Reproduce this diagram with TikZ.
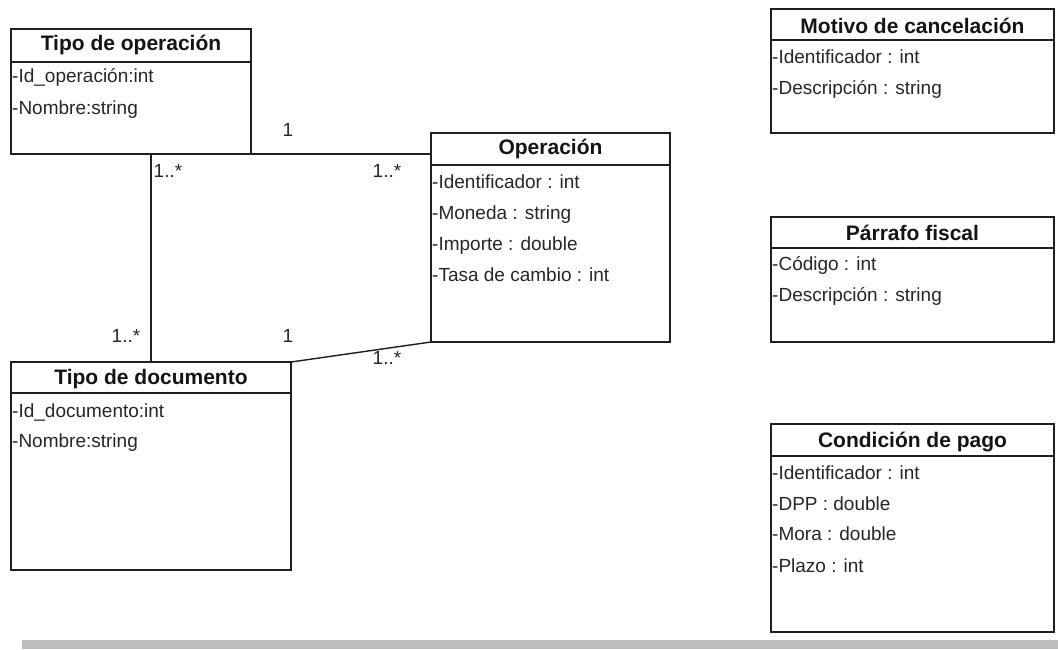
\documentclass[tikz,border=0pt]{standalone}
\usepackage{fontspec}
\setmainfont{Liberation Sans}
\begin{document}
\begin{tikzpicture}[x=1pt,y=-1pt,
  classbox/.style={draw=black!88, line width=1.7pt, outer sep=0pt, inner sep=0pt, anchor=north west},
  rule/.style={draw=black!88, line width=1.5pt},
  link/.style={draw=black!88, line width=1.4pt},
  title/.style={font=\fontsize{21}{24}\selectfont\bfseries, text=black!92, inner sep=0pt},
  attr/.style={font=\fontsize{19}{22}\selectfont, text=black!85, anchor=west, inner sep=0pt,
    text height=0.72em, text depth=0.2em},
  mult/.style={font=\fontsize{19}{22}\selectfont, text=black!85, inner sep=0pt,
    text height=0.72em, text depth=0.2em}
]
\useasboundingbox (0,0) rectangle (1058,649);

% ---- Tipo de operación ----
\node[classbox, minimum width=240pt, minimum height=125pt] (tipoop) at (11,29) {};
\draw[rule] ([yshift=-33pt]tipoop.north west) -- ([yshift=-33pt]tipoop.north east);
\node[title] (tipoop-t) at ([yshift=-16pt]tipoop.north) {Tipo de operación};
\node[attr] (tipoop-a1) at ([xshift=1pt,yshift=-51pt]tipoop.north west) {-Id\_operación:int};
\node[attr] (tipoop-a2) at ([xshift=1pt,yshift=-83pt]tipoop.north west) {-Nombre:string};

% ---- Operación ----
\node[classbox, minimum width=239pt, minimum height=209pt] (oper) at (431,133) {};
\draw[rule] ([yshift=-32pt]oper.north west) -- ([yshift=-32pt]oper.north east);
\node[title] (oper-t) at ([yshift=-16pt]oper.north) {Operación};
\node[attr] (oper-a1) at ([xshift=1pt,yshift=-53pt]oper.north west) {-Identificador : int};
\node[attr] (oper-a2) at ([xshift=1pt,yshift=-84pt]oper.north west) {-Moneda : string};
\node[attr] (oper-a3) at ([xshift=1pt,yshift=-115pt]oper.north west) {-Importe : double};
\node[attr] (oper-a4) at ([xshift=1pt,yshift=-146pt]oper.north west) {-Tasa de cambio : int};

% ---- Tipo de documento ----
\node[classbox, minimum width=280pt, minimum height=208pt] (tipodoc) at (11,362) {};
\draw[rule] ([yshift=-31pt]tipodoc.north west) -- ([yshift=-31pt]tipodoc.north east);
\node[title] (tipodoc-t) at ([yshift=-17pt]tipodoc.north) {Tipo de documento};
\node[attr] (tipodoc-a1) at ([xshift=1pt,yshift=-53pt]tipodoc.north west) {-Id\_documento:int};
\node[attr] (tipodoc-a2) at ([xshift=1pt,yshift=-83pt]tipodoc.north west) {-Nombre:string};

% ---- Motivo de cancelación ----
\node[classbox, minimum width=283pt, minimum height=124pt] (motivo) at (771,9) {};
\draw[rule] ([yshift=-31pt]motivo.north west) -- ([yshift=-31pt]motivo.north east);
\node[title] (motivo-t) at ([yshift=-17pt]motivo.north) {Motivo de cancelación};
\node[attr] (motivo-a1) at ([xshift=1pt,yshift=-52pt]motivo.north west) {-Identificador : int};
\node[attr] (motivo-a2) at ([xshift=1pt,yshift=-83pt]motivo.north west) {-Descripción : string};

% ---- Párrafo fiscal ----
\node[classbox, minimum width=283pt, minimum height=125pt] (parrafo) at (771,217) {};
\draw[rule] ([yshift=-31pt]parrafo.north west) -- ([yshift=-31pt]parrafo.north east);
\node[title] (parrafo-t) at ([yshift=-16pt]parrafo.north) {Párrafo fiscal};
\node[attr] (parrafo-a1) at ([xshift=1pt,yshift=-51pt]parrafo.north west) {-Código : int};
\node[attr] (parrafo-a2) at ([xshift=1pt,yshift=-82pt]parrafo.north west) {-Descripción : string};

% ---- Condición de pago ----
\node[classbox, minimum width=283pt, minimum height=208pt] (cond) at (771,424) {};
\draw[rule] ([yshift=-32pt]cond.north west) -- ([yshift=-32pt]cond.north east);
\node[title] (cond-t) at ([yshift=-18pt]cond.north) {Condición de pago};
\node[attr] (cond-a1) at ([xshift=1pt,yshift=-53pt]cond.north west) {-Identificador : int};
\node[attr] (cond-a2) at ([xshift=1pt,yshift=-84pt]cond.north west) {-DPP : double};
\node[attr] (cond-a3) at ([xshift=1pt,yshift=-114pt]cond.north west) {-Mora : double};
\node[attr] (cond-a4) at ([xshift=1pt,yshift=-146pt]cond.north west) {-Plazo : int};

% ---- Associations ----
\draw[link] ([xshift=140pt]tipoop.south west) -- ([xshift=140pt]tipodoc.north west);
\draw[link] (tipoop.south east) -- (tipoop.south east -| oper.west);
\draw[link] (tipodoc.north east) -- (oper.south west);

% ---- Multiplicities ----
\node[mult] (m1) at (288,134) {1};
\node[mult] (m2) at (168,175) {1..*};
\node[mult] (m3) at (387,175) {1..*};
\node[mult] (m4) at (126,340) {1..*};
\node[mult] (m5) at (288,340) {1};
\node[mult] (m6) at (387,362) {1..*};

% ---- Bottom bar ----
\fill[black!26] (22,640) rectangle (1058,649);
\end{tikzpicture}
\end{document}
